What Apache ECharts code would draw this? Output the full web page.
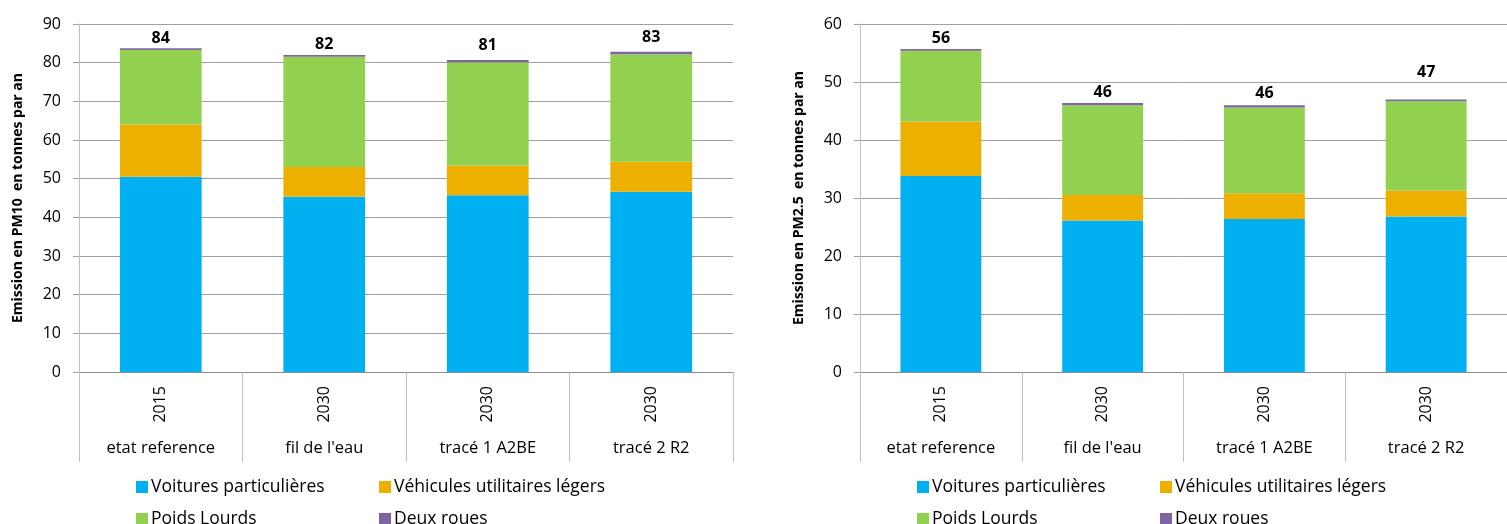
<!DOCTYPE html>
<html>
<head>
<meta charset="utf-8">
<script src="https://cdn.jsdelivr.net/npm/echarts@6/dist/echarts.min.js"></script>
<style>
  html, body { margin: 0; padding: 0; background: #fff; }
  #chart { width: 1507px; height: 524px; }
</style>
</head>
<body>
<div id="chart"></div>
<script>
// categories (two-level x axis)
var years = ['2015', '2030', '2030', '2030'];
var scenarios = ['etat reference', "fil de l'eau", 'tracé 1 A2BE', 'tracé 2 R2'];
var seriesNames = ['Voitures particulières', 'Véhicules utilitaires légers', 'Poids Lourds', 'Deux roues'];

// PM10, tonnes par an
var pm10Voitures = [50.5, 45.3, 45.7, 46.6];
var pm10Vul = [13.5, 7.7, 7.7, 7.8];
var pm10PoidsLourds = [19.3, 28.5, 26.7, 27.8];
var pm10DeuxRoues = [0.4, 0.5, 0.6, 0.6];
var pm10Totals = [84, 82, 81, 83];

// PM2.5, tonnes par an
var pm25Voitures = [33.8, 26.1, 26.4, 26.8];
var pm25Vul = [9.4, 4.4, 4.4, 4.5];
var pm25PoidsLourds = [12.2, 15.5, 14.8, 15.4];
var pm25DeuxRoues = [0.3, 0.4, 0.4, 0.3];
var pm25Totals = [56, 46, 46, 47];

// y axis ticks
var pm10Max = 90, pm25Max = 60, yStep = 10;

var colors = ['#00b0f0', '#eeb000', '#92d050', '#8064a2'];
var font = '"Open Sans", sans-serif';
var totalLabelGapL = [2, 2, 7, 6];
var totalLabelGapR = [3, 2, 4, 19];

var myChart = echarts.init(document.getElementById('chart'));

function yAxis(grid, max, title) {
    return {
        type: 'value', gridIndex: grid, min: 0, max: max, interval: yStep,
        name: title, nameLocation: 'middle', nameGap: 54,
        nameTextStyle: { fontFamily: font, fontWeight: 'bold', fontSize: 14, color: '#000' },
        axisLine: { show: true, lineStyle: { color: '#bfbfbf' } },
        axisTick: { show: true, length: 6, lineStyle: { color: '#a0a0a0' } },
        axisLabel: { fontFamily: font, fontSize: 16, color: '#000', margin: 18 },
        splitLine: { lineStyle: { color: '#a0a0a0' } }
    };
}

function xAxes(grid) {
    return [{
        type: 'category', gridIndex: grid, data: years, position: 'bottom',
        axisLine: { show: true, lineStyle: { color: '#8c8c8c' } },
        axisTick: { show: true, length: 90, lineStyle: { color: '#c0c0c0' } },
        axisLabel: { rotate: 90, margin: 14, fontFamily: font, fontSize: 16, color: '#000' }
    }, {
        type: 'category', gridIndex: grid, data: scenarios, position: 'bottom',
        axisLine: { show: false }, axisTick: { show: false },
        axisLabel: { margin: 68, fontFamily: font, fontSize: 16.5, color: '#000' }
    }];
}

function bars(xi, yi, stack, values, totals, gaps) {
    return values.map(function (vals, k) {
        var s = {
            name: seriesNames[k], type: 'bar', stack: stack,
            xAxisIndex: xi, yAxisIndex: yi,
            barCategoryGap: '50%',
            itemStyle: { color: colors[k] },
            data: vals
        };
        if (k === values.length - 1) {
            s.data = vals.map(function (v, i) {
                return { value: v, label: { distance: gaps[i] } };
            });
            s.label = {
                show: true, position: 'top',
                fontFamily: font, fontWeight: 'bold', fontSize: 16, color: '#000',
                formatter: function (p) { return totals[p.dataIndex]; }
            };
        }
        return s;
    });
}

function legends(offset) {
    var base = { orient: 'vertical', top: 478, height: 100, padding: 0, itemWidth: 12, itemHeight: 12, itemGap: 14,
        icon: 'rect', textStyle: { fontFamily: font, fontSize: 17.5, color: '#000', padding: [0, 0, 0, -2] } };
    return [
        Object.assign({}, base, { left: 136 + offset, data: [seriesNames[0], seriesNames[2]] }),
        Object.assign({}, base, { left: 379 + offset, data: [seriesNames[1], seriesNames[3]] })
    ];
}

myChart.setOption({
    animation: false,
    grid: [
        { left: 79, top: 24, width: 654, height: 348 },
        { left: 860, top: 24, width: 652, height: 348 }
    ],
    xAxis: xAxes(0).concat(xAxes(1)),
    yAxis: [
        yAxis(0, pm10Max, 'Emission en PM10  en tonnes par an'),
        yAxis(1, pm25Max, 'Emission en PM2.5  en tonnes par an')
    ],
    legend: legends(0).concat(legends(781)),
    series: bars(0, 0, 'pm10', [pm10Voitures, pm10Vul, pm10PoidsLourds, pm10DeuxRoues], pm10Totals, totalLabelGapL)
        .concat(bars(2, 1, 'pm25', [pm25Voitures, pm25Vul, pm25PoidsLourds, pm25DeuxRoues], pm25Totals, totalLabelGapR))
});
</script>
</body>
</html>
